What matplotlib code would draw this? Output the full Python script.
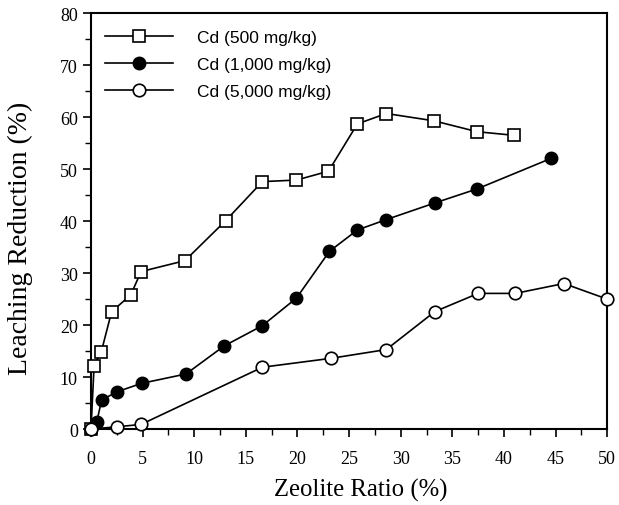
import matplotlib
matplotlib.use("Agg")
import matplotlib.pyplot as plt
from matplotlib.ticker import MultipleLocator

# zeolite ratio (%) and leaching reduction (%)
x_500 = [0, 0.3, 1.0, 2.0, 3.85, 4.85, 9.1, 13.05, 16.6, 19.9, 23.0, 25.8, 28.6, 33.2, 37.4, 41.0]
y_500 = [0, 12.2, 14.9, 22.6, 25.8, 30.3, 32.4, 40.1, 47.6, 47.9, 49.6, 58.7, 60.7, 59.3, 57.2, 56.5]

x_1000 = [0, 0.55, 1.03, 2.55, 4.9, 9.2, 12.9, 16.6, 19.9, 23.1, 25.8, 28.6, 33.3, 37.4, 44.6]
y_1000 = [0, 1.3, 5.6, 7.2, 8.8, 10.6, 16.0, 19.9, 25.2, 34.2, 38.3, 40.3, 43.5, 46.2, 52.1]

x_5000 = [0, 2.55, 4.85, 16.6, 23.2, 28.6, 33.3, 37.5, 41.1, 45.8, 50.0]
y_5000 = [0, 0.45, 0.9, 11.9, 13.6, 15.3, 22.6, 26.1, 26.1, 28.0, 25.0]

labels = ["Cd (500 mg/kg)", "Cd (1,000 mg/kg)", "Cd (5,000 mg/kg)"]

fig = plt.figure(figsize=(6.19, 5.06), dpi=100)
ax = fig.add_axes([0.147, 0.150, 0.834, 0.822])

lw = 1.2
ax.plot(x_500, y_500, "-s", color="black", lw=lw, ms=9, mfc="white", mec="black", mew=1.2,
        label=labels[0], clip_on=False, zorder=3)
ax.plot(x_1000, y_1000, "-o", color="black", lw=lw, ms=9, mfc="black", mec="black",
        label=labels[1], clip_on=False, zorder=3)
ax.plot(x_5000, y_5000, "-o", color="black", lw=lw, ms=9, mfc="white", mec="black", mew=1.2,
        label=labels[2], clip_on=False, zorder=4)

ax.set_xlim(0, 50)
ax.set_ylim(0, 80)
ax.xaxis.set_major_locator(MultipleLocator(5))
ax.xaxis.set_minor_locator(MultipleLocator(2.5))
ax.yaxis.set_major_locator(MultipleLocator(10))
ax.yaxis.set_minor_locator(MultipleLocator(5))
ax.tick_params(which="major", direction="out", length=6, width=1.2, labelsize=13)
ax.tick_params(which="minor", direction="out", length=4, width=1.0)
ax.tick_params(axis="x", which="major", pad=9)
for lab in ax.get_xticklabels() + ax.get_yticklabels():
    lab.set_family("Liberation Serif")
for sp in ax.spines.values():
    sp.set_linewidth(1.5)

ax.set_xlabel("Zeolite Ratio (%)", family="Liberation Serif", fontsize=17.8)
ax.set_ylabel("Leaching Reduction (%)", family="Liberation Serif", fontsize=20)
ax.xaxis.set_label_coords(0.523, -0.118)
ax.yaxis.set_label_coords(-0.112, 0.462)

leg = ax.legend(loc="upper left", frameon=False, prop={"family": "Liberation Sans", "size": 12.5},
                handlelength=3.9, handletextpad=1.4, labelspacing=0.68,
                borderpad=0, borderaxespad=0, bbox_to_anchor=(0.027, 0.96))

fig.savefig("out.png", dpi=100)
